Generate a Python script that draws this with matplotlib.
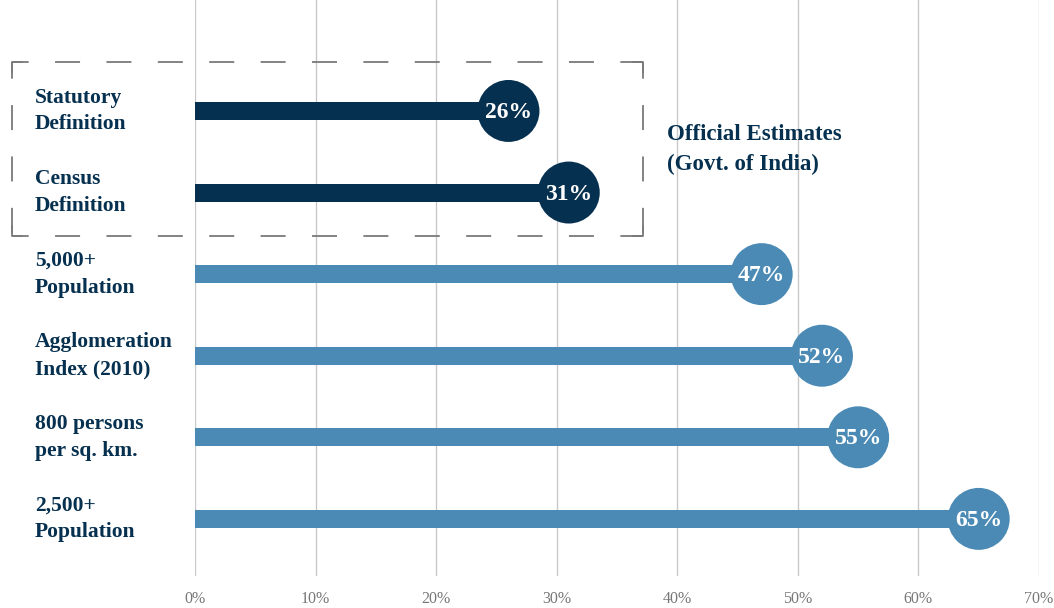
import matplotlib
matplotlib.use("Agg")
from matplotlib import pyplot as plt
from matplotlib.lines import Line2D
from matplotlib.transforms import blended_transform_factory

# urban share of India's population under different definitions
categories = [
    "Statutory\nDefinition",
    "Census\nDefinition",
    "5,000+\nPopulation",
    "Agglomeration\nIndex (2010)",
    "800 persons\nper sq. km.",
    "2,500+\nPopulation",
]
shares = [26, 31, 47, 52, 55, 65]
official = [True, True, False, False, False, False]
x_ticks = [0, 10, 20, 30, 40, 50, 60, 70]

NAVY = "#06304f"
BLUE = "#4a8ab5"
GRID = "#c9c9c9"

plt.rcParams["font.family"] = ["Liberation Serif", "DejaVu Serif"]
plt.rcParams["lines.scale_dashes"] = False

W, H = 1054, 608
fig = plt.figure(figsize=(W / 100, H / 100), dpi=100)
ax = fig.add_axes([195 / W, (H - 576) / H, 844 / W, 576 / H])

rows = list(range(len(categories)))
colors = [NAVY if o else BLUE for o in official]

ax.barh(rows, shares, height=0.22, color=colors, zorder=2)
ax.scatter(shares, rows, s=1990, color=colors, zorder=3, linewidths=0)

for r, v, c in zip(rows, shares, colors):
    ax.text(v, r + 0.02, f"{v}%", color="white", fontsize=17, fontweight="bold",
            ha="center", va="center", zorder=4)

lbl_tr = blended_transform_factory(fig.transFigure, ax.transData)
for r, name in zip(rows, categories):
    ax.text(35 / W, r, name, transform=lbl_tr, color=NAVY, fontsize=15.5,
            fontweight="bold", ha="left", va="center", linespacing=1.45)

ax.set_xlim(0, 70)
ax.set_ylim(5.70, -1.36)
ax.set_xticks(x_ticks)
ax.set_xticklabels([f"{t}%" for t in x_ticks], color="#777777", fontsize=11.5)
ax.tick_params(axis="x", length=0, pad=11)
ax.set_yticks([])
ax.grid(axis="x", color=GRID, linewidth=1, zorder=0)
for s in ax.spines.values():
    s.set_visible(False)

# dashed frame around the two official estimates
x0, x1 = 12 / W, 643 / W
y0, y1 = 1 - 236 / H, 1 - 62 / H
dash = (6, (18, 19))
for xs, ys in [((x0, x1), (y1, y1)), ((x0, x1), (y0, y0)),
               ((x0, x0), (y1, y0)), ((x1, x1), (y1, y0))]:
    fig.add_artist(Line2D(xs, ys, transform=fig.transFigure, color="#7a7a7a",
                          linewidth=1.3, linestyle=dash))
for cx, cy, dx, dy in [(x0, y1, 1, -1), (x1, y1, -1, -1),
                       (x0, y0, 1, 1), (x1, y0, -1, 1)]:
    fig.add_artist(Line2D([cx + dx * 10 / W, cx, cx], [cy, cy, cy + dy * 10 / H],
                          transform=fig.transFigure, color="#7a7a7a", linewidth=1.3))

fig.text(667 / W, 1 - 150 / H, "Official Estimates\n(Govt. of India)", color=NAVY,
         fontsize=16.5, fontweight="bold", ha="left", va="center", linespacing=1.55)

fig.savefig("out.png", dpi=100)
